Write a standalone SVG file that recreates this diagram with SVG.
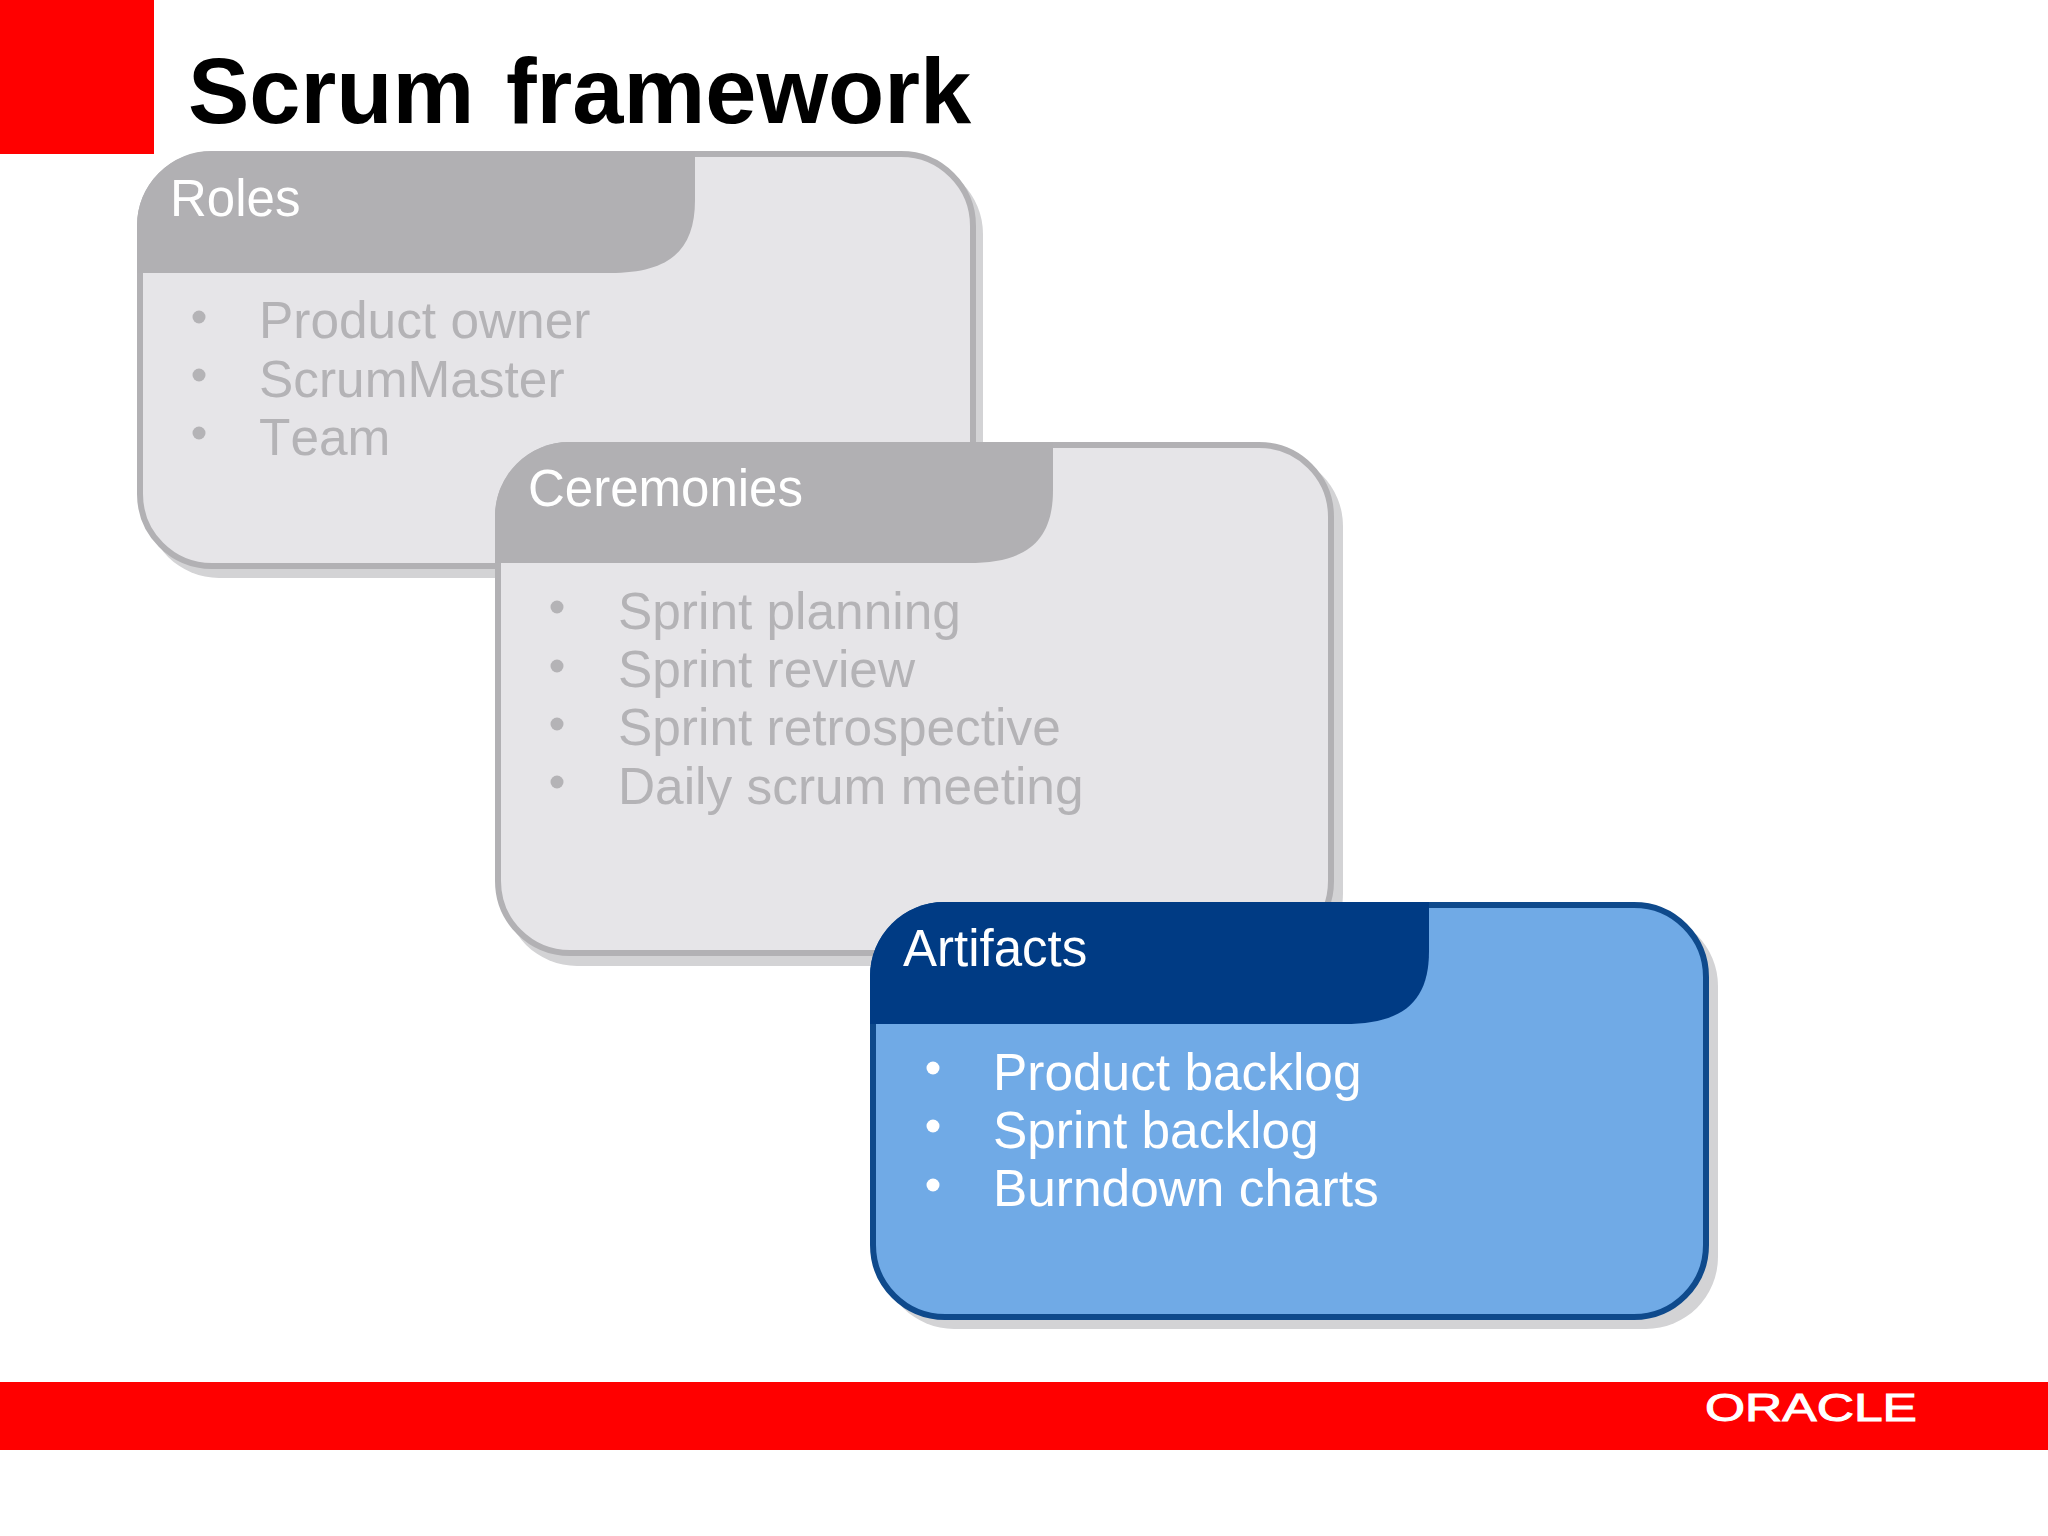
<svg xmlns="http://www.w3.org/2000/svg" width="2048" height="1536" viewBox="0 0 2048 1536">
<style>
text{font-family:"Liberation Sans",Arial,sans-serif;font-kerning:none}
.title{font-size:92px;font-weight:700;fill:#000;word-spacing:6px}
.head{font-size:51px;fill:#fff}
.item{font-size:51.4px}
.ghost .item{fill:#b4b3b6}
.ghost .dot{fill:#b4b3b6}
.ghost .box{fill:#e6e5e8;stroke:#b2b1b4}
.ghost .hdr{fill:#b1b0b3}
.live .item{fill:#fff}
.live .dot{fill:#fff}
.live .box{fill:#70aae6;stroke:#0f4a8c}
.live .hdr{fill:#003b84}
.box{stroke-width:6}
.shadow{fill:#d3d3d5}
</style>
<rect width="2048" height="1536" fill="#fff"/>
<rect id="corner" x="0" y="0" width="154" height="154" fill="#ff0000"/>
<text class="title" x="188" y="123">Scrum framework</text>
<g id="roles" class="ghost">
<rect class="shadow" x="147" y="162" width="836" height="416" rx="72"/>
<rect class="box" x="140" y="154" width="833" height="412" rx="72"/>
<path class="hdr" d="M137 273V226A74 74 0 0 1 211 151.500H695V200C695 250 670 273 610 273Z"/>
<text class="head" x="170" y="216">Roles</text>
<circle class="dot" cx="199" cy="317" r="6.500"/><text class="item" x="259" y="338">Product owner</text>
<circle class="dot" cx="199" cy="375" r="6.500"/><text class="item" x="259" y="397">ScrumMaster</text>
<circle class="dot" cx="199" cy="433" r="6.500"/><text class="item" x="259" y="455">Team</text>
</g>
<g id="ceremonies" class="ghost">
<rect class="shadow" x="505" y="454" width="838" height="512" rx="72"/>
<rect class="box" x="498" y="445" width="833" height="508" rx="72"/>
<path class="hdr" d="M495 563V516A74 74 0 0 1 569 442H1053V490C1053 540 1028 563 968 563Z"/>
<text class="head" x="528" y="506">Ceremonies</text>
<circle class="dot" cx="557" cy="607" r="6.500"/><text class="item" x="618" y="629">Sprint planning</text>
<circle class="dot" cx="557" cy="666" r="6.500"/><text class="item" x="618" y="687">Sprint review</text>
<circle class="dot" cx="557" cy="724" r="6.500"/><text class="item" x="618" y="745">Sprint retrospective</text>
<circle class="dot" cx="557" cy="782" r="6.500"/><text class="item" x="618" y="804">Daily scrum meeting</text>
</g>
<g id="artifacts" class="live">
<rect class="shadow" x="882" y="914" width="836" height="415" rx="72"/>
<rect class="box" x="873" y="905" width="833" height="412" rx="72"/>
<path class="hdr" d="M870 1024V976A74 74 0 0 1 944 902H1429V951C1429 1001 1404 1024 1344 1024Z"/>
<text class="head" x="903" y="966">Artifacts</text>
<circle class="dot" cx="933" cy="1068" r="6.500"/><text class="item" x="993" y="1090">Product backlog</text>
<circle class="dot" cx="933" cy="1126" r="6.500"/><text class="item" x="993" y="1148">Sprint backlog</text>
<circle class="dot" cx="933" cy="1185" r="6.500"/><text class="item" x="993" y="1206">Burndown charts</text>
</g>
<rect id="footer" x="0" y="1382" width="2048" height="68" fill="#ff0000"/>
<text id="logo" x="1705" y="1421" font-size="39" fill="#fff" stroke="#fff" stroke-width="1" textLength="212" lengthAdjust="spacingAndGlyphs">ORACLE</text>
<g id="connectors"/>
</svg>
